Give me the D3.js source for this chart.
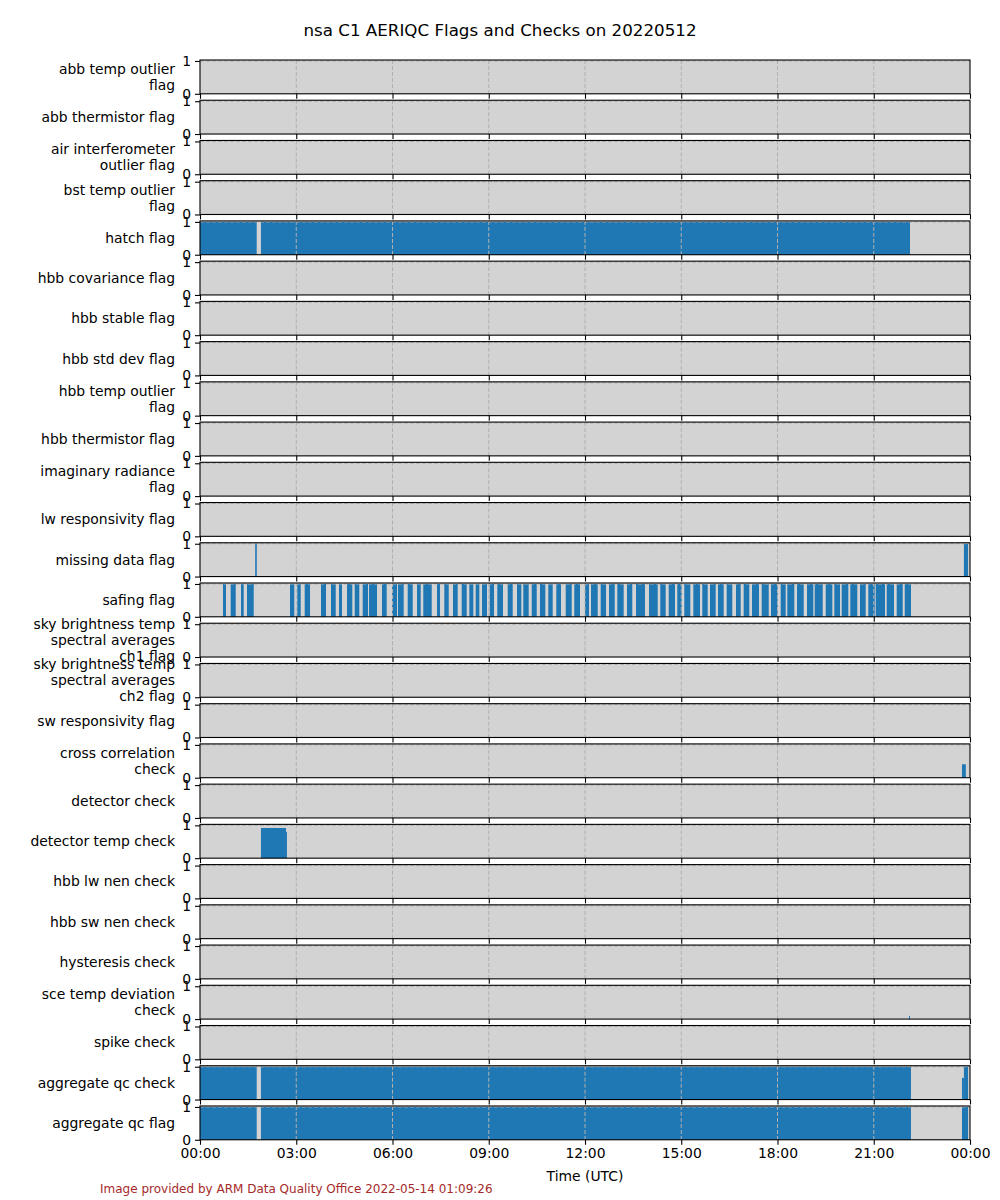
<!DOCTYPE html>
<html><head><meta charset="utf-8">
<script src="https://cdn.jsdelivr.net/npm/d3@7"></script>
<style>body{margin:0;background:#fff;font-family:"DejaVu Sans",sans-serif;}</style>
</head><body>
<svg id="chart" width="1000" height="1200"></svg>
<script>
const title = "nsa C1 AERIQC Flags and Checks on 20220512";
const footer = "Image provided by ARM Data Quality Office 2022-05-14 01:09:26";
const xLabel = "Time (UTC)";
const xTickHours = [0,3,6,9,12,15,18,21,24];
const xTickLabels = ["00:00","03:00","06:00","09:00","12:00","15:00","18:00","21:00","00:00"];
const yTicks = [0,1];

const panelLabels = [
  ["abb temp outlier","flag"],
  ["abb thermistor flag"],
  ["air interferometer","outlier flag"],
  ["bst temp outlier","flag"],
  ["hatch flag"],
  ["hbb covariance flag"],
  ["hbb stable flag"],
  ["hbb std dev flag"],
  ["hbb temp outlier","flag"],
  ["hbb thermistor flag"],
  ["imaginary radiance","flag"],
  ["lw responsivity flag"],
  ["missing data flag"],
  ["safing flag"],
  ["sky brightness temp","spectral averages","ch1 flag"],
  ["sky brightness temp","spectral averages","ch2 flag"],
  ["sw responsivity flag"],
  ["cross correlation","check"],
  ["detector check"],
  ["detector temp check"],
  ["hbb lw nen check"],
  ["hbb sw nen check"],
  ["hysteresis check"],
  ["sce temp deviation","check"],
  ["spike check"],
  ["aggregate qc check"],
  ["aggregate qc flag"]
];

// segments: [start hour, end hour, value]
const hatchFlag = [[0,1.767,1],[1.9,22.13,1]];
const missingDataFlag = [[1.72,1.77,1],[23.81,23.94,1]];
const safingStarts = [0.717,0.957,1.278,1.465,2.805,3.033,3.263,3.771,4.083,4.332,4.582,4.822,5.071,5.268,5.673,5.984,6.171,6.474,6.764,6.960,7.387,7.615,7.886,8.157,8.394,8.593,8.790,9.030,9.267,9.591,9.881,10.077,10.339,10.597,10.856,11.106,11.399,11.666,12.000,12.187,12.489,12.748,13.007,13.309,13.590,13.995,14.347,14.609,14.877,15.095,15.376,15.656,15.896,16.145,16.416,16.706,16.946,17.205,17.508,17.797,18.100,18.306,18.608,18.920,19.160,19.503,19.771,20.001,20.269,20.571,20.830,21.061,21.404,21.716,21.965];
const safingEnds = [0.810,1.113,1.362,1.674,2.939,3.139,3.429,3.927,4.230,4.426,4.747,4.965,5.236,5.517,5.819,6.140,6.349,6.630,6.879,7.222,7.481,7.752,8.032,8.313,8.519,8.706,8.945,9.164,9.444,9.747,10.015,10.245,10.495,10.763,10.993,11.252,11.586,11.844,12.125,12.396,12.655,12.926,13.206,13.474,13.870,14.266,14.515,14.805,15.014,15.282,15.584,15.824,16.073,16.323,16.591,16.853,17.121,17.423,17.726,18.006,18.255,18.524,18.817,19.116,19.409,19.709,19.948,20.207,20.487,20.749,21.030,21.351,21.631,21.903,22.161];
const crossCorrelationCheck = [[23.75,23.87,0.41]];
const detectorTempCheck = [[1.9,2.68,0.92],[2.68,2.71,0.8]];
const sceTempDeviationCheck = [[22.10,22.13,0.1]];
const aggregateQcCheck = [[0,1.767,1],[1.9,22.16,1],[23.75,23.81,0.66],[23.81,23.94,1]];
const aggregateQcFlag = [[0,1.767,1],[1.9,22.16,1],[23.75,23.94,1]];

const safingFlag = safingStarts.map((s,i)=>[s,safingEnds[i],1]);
const panelData = panelLabels.map(()=>[]);
panelData[4] = hatchFlag;
panelData[12] = missingDataFlag;
panelData[13] = safingFlag;
panelData[17] = crossCorrelationCheck;
panelData[19] = detectorTempCheck;
panelData[23] = sceTempDeviationCheck;
panelData[25] = aggregateQcCheck;
panelData[26] = aggregateQcFlag;

const svg = d3.select("#chart");
const left = 200, right = 970, top0 = 60, pitch = 40.23, ph = 33.8;
const x = d3.scaleLinear().domain([0,24]).range([left,right]);
const font = "DejaVu Sans, sans-serif";
const fs = 13.9;

svg.append("text").attr("x",500).attr("y",36).attr("text-anchor","middle")
  .attr("font-size",16.7).attr("font-family",font).attr("fill","#000").text(title);

panelLabels.forEach((lab,i)=>{
  const ty = top0 + i*pitch;
  const g = svg.append("g").attr("transform",`translate(0,${ty})`);
  const y = d3.scaleLinear().domain([0,1.03]).range([ph,0]);
  g.append("rect").attr("x",left).attr("y",0).attr("width",right-left).attr("height",ph).attr("fill","#d3d3d3");
  g.selectAll("rect.bar").data(panelData[i]).enter().append("rect").attr("class","bar")
    .attr("x",d=>x(d[0])).attr("width",d=>Math.max(0.8,x(d[1])-x(d[0])))
    .attr("y",d=>y(d[2])).attr("height",d=>y(0)-y(d[2])).attr("fill","#1f77b4");
  // grid
  g.selectAll("line.vg").data(xTickHours.slice(1,-1)).enter().append("line")
    .attr("x1",d=>x(d)).attr("x2",d=>x(d)).attr("y1",0).attr("y2",ph)
    .attr("stroke","#b0b0b0").attr("stroke-width",1).attr("stroke-dasharray","4,2");
  g.append("line").attr("x1",left).attr("x2",right).attr("y1",y(1)).attr("y2",y(1))
    .attr("stroke","#b0b0b0").attr("stroke-width",1).attr("stroke-dasharray","4,2");
  // axes
  const xa = d3.axisBottom(x).tickValues(xTickHours).tickSize(5).tickSizeOuter(0)
    .tickFormat(i===panelLabels.length-1 ? (d,k)=>xTickLabels[k] : ()=> "");
  const xg = g.append("g").attr("transform",`translate(0,${ph})`).call(xa);
  xg.select(".domain").remove();
  xg.selectAll("line").attr("stroke","#000").attr("stroke-width",1.1);
  xg.selectAll("text").attr("font-size",fs).attr("font-family",font).attr("fill","#000").attr("dy","0.75em").attr("y",8);
  const ya = d3.axisLeft(y).tickValues(yTicks).tickSize(5).tickSizeOuter(0).tickFormat(d3.format("d"));
  const yg = g.append("g").attr("transform",`translate(${left},0)`).call(ya);
  yg.select(".domain").remove();
  yg.selectAll("line").attr("stroke","#000").attr("stroke-width",1.1);
  yg.selectAll("text").attr("font-size",fs).attr("font-family",font).attr("fill","#000").attr("x",-9);
  g.append("rect").attr("x",left).attr("y",0).attr("width",right-left).attr("height",ph)
    .attr("fill","none").attr("stroke","#000").attr("stroke-width",1.1);
  // label
  const lh = 16;
  const n = lab.length;
  const t = g.append("text").attr("text-anchor","end").attr("font-size",fs).attr("font-family",font).attr("fill","#000");
  lab.forEach((s,k)=>{
    t.append("tspan").attr("x",175).attr("y", ph/2 + (k-(n-1)/2)*lh + 5).text(s);
  });
});

svg.append("text").attr("x",(left+right)/2).attr("y",1181).attr("text-anchor","middle")
  .attr("font-size",fs).attr("font-family",font).attr("fill","#000").text(xLabel);
svg.append("text").attr("x",100).attr("y",1193).attr("font-size",12).attr("font-family",font)
  .attr("fill","#a52a2a").text(footer);
</script>
</body></html>
